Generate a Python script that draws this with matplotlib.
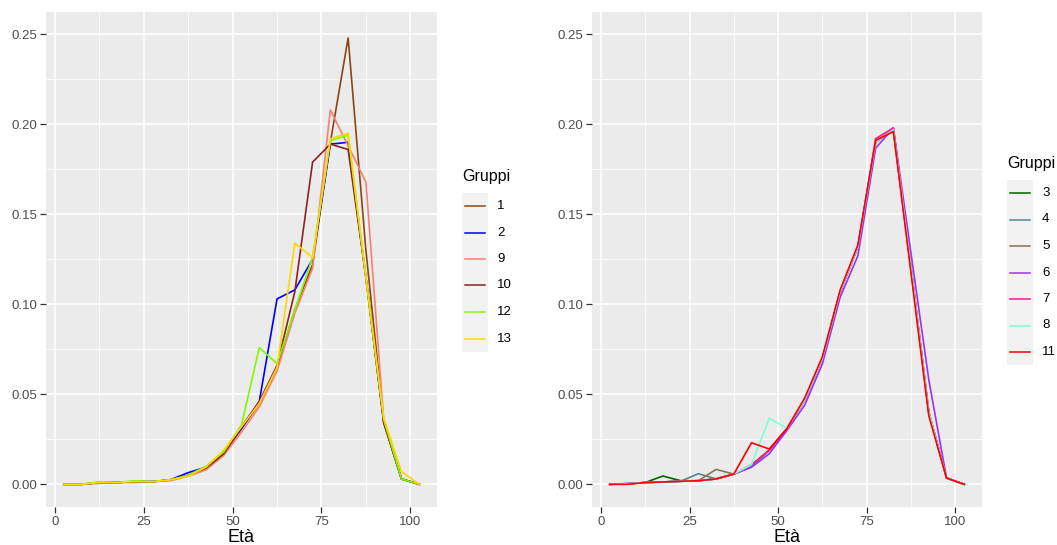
import matplotlib
matplotlib.use("Agg")
import matplotlib.pyplot as plt
from matplotlib.lines import Line2D
from matplotlib.patches import Rectangle

plt.rcParams['font.family'] = ['Liberation Sans', 'DejaVu Sans']

# classi di età (punto centrale)
eta = [2.5, 7.5, 12.5, 17.5, 22.5, 27.5, 32.5, 37.5, 42.5, 47.5, 52.5,
       57.5, 62.5, 67.5, 72.5, 77.5, 82.5, 87.5, 92.5, 97.5, 102.5]

# pannello sinistro
g1 = [0, 0, 0.001, 0.001, 0.0015, 0.0015, 0.0025, 0.005, 0.009, 0.017, 0.031,
      0.045, 0.065, 0.097, 0.122, 0.19, 0.248, 0.13, 0.035, 0.003, 0]
g2 = [0, 0, 0.001, 0.001, 0.0015, 0.0015, 0.0025, 0.0065, 0.0095, 0.018, 0.031,
      0.046, 0.103, 0.108, 0.125, 0.189, 0.190, 0.115, 0.035, 0.003, 0]
g9 = [0, 0, 0.0005, 0.001, 0.001, 0.0015, 0.002, 0.0045, 0.008, 0.016, 0.029,
      0.043, 0.063, 0.095, 0.12, 0.208, 0.188, 0.168, 0.036, 0.003, 0]
g10 = [0, 0, 0.001, 0.001, 0.0015, 0.0015, 0.0025, 0.005, 0.009, 0.017, 0.032,
       0.046, 0.066, 0.107, 0.179, 0.189, 0.186, 0.115, 0.034, 0.003, 0]
g12 = [0, 0, 0.0015, 0.001, 0.002, 0.0015, 0.0025, 0.005, 0.01, 0.018, 0.033,
       0.076, 0.067, 0.097, 0.126, 0.191, 0.194, 0.115, 0.036, 0.003, 0]
g13 = [0, 0, 0.001, 0.001, 0.0015, 0.0015, 0.0025, 0.0045, 0.0095, 0.019, 0.032,
       0.045, 0.065, 0.134, 0.126, 0.192, 0.195, 0.115, 0.037, 0.007, 0]

# pannello destro
g3 = [0, 0.0003, 0.001, 0.0046, 0.002, 0.002, 0.003, 0.0057, 0.010, 0.019, 0.031,
      0.047, 0.070, 0.107, 0.132, 0.190, 0.197, 0.12, 0.040, 0.0035, 0]
g4 = [0, 0.0003, 0.001, 0.0013, 0.0017, 0.0059, 0.003, 0.0057, 0.010, 0.019, 0.031,
      0.047, 0.070, 0.107, 0.132, 0.190, 0.197, 0.12, 0.040, 0.0035, 0]
g5 = [0, 0.0003, 0.001, 0.0013, 0.0017, 0.002, 0.0083, 0.0057, 0.010, 0.019, 0.031,
      0.047, 0.070, 0.107, 0.132, 0.190, 0.197, 0.12, 0.040, 0.0035, 0]
g6 = [0, 0.0003, 0.001, 0.0013, 0.0017, 0.002, 0.003, 0.0057, 0.0095, 0.017, 0.030,
      0.044, 0.067, 0.104, 0.127, 0.1867, 0.198, 0.128, 0.058, 0.0035, 0]
g7 = [0, 0.0005, 0.001, 0.0013, 0.0017, 0.002, 0.003, 0.0057, 0.011, 0.019, 0.031,
      0.047, 0.070, 0.107, 0.132, 0.192, 0.198, 0.12, 0.040, 0.0035, 0]
g8 = [0, 0.0003, 0.001, 0.0013, 0.0017, 0.002, 0.003, 0.0057, 0.011, 0.0367, 0.031,
      0.047, 0.070, 0.107, 0.132, 0.190, 0.197, 0.12, 0.040, 0.0035, 0]
g11 = [0, 0, 0.001, 0.0013, 0.0017, 0.002, 0.003, 0.0057, 0.0231, 0.0196, 0.031,
       0.048, 0.071, 0.108, 0.133, 0.191, 0.196, 0.117, 0.038, 0.0035, 0]

gruppi_sx = ['1', '2', '9', '10', '12', '13']
serie_sx = [g1, g2, g9, g10, g12, g13]
colori_sx = ['#8B4513', '#0000FF', '#FA8072', '#8B2323', '#7CFC00', '#FFD700']

gruppi_dx = ['3', '4', '5', '6', '7', '8', '11']
serie_dx = [g3, g4, g5, g6, g7, g8, g11]
colori_dx = ['#006400', '#53868B', '#8B7355', '#9B30FF', '#FF1493', '#7FFFD4', '#FF0000']

W, H = 1057, 545
fig = plt.figure(figsize=(W / 100, H / 100), dpi=100)


def px_axes(x0, y0, x1, y1):
    return fig.add_axes([x0 / W, 1 - y1 / H, (x1 - x0) / W, (y1 - y0) / H])


def style(ax):
    ax.set_facecolor('#EBEBEB')
    for s in ax.spines.values():
        s.set_visible(False)
    ax.set_xlim(-2.5, 107.5)
    ax.set_ylim(-0.0126, 0.2624)
    ax.set_xticks([0, 25, 50, 75, 100])
    ax.set_xticks([12.5, 37.5, 62.5, 87.5], minor=True)
    ax.set_yticks([0, 0.05, 0.10, 0.15, 0.20, 0.25])
    ax.set_yticklabels(['0.00', '0.05', '0.10', '0.15', '0.20', '0.25'])
    ax.set_yticks([0.025, 0.075, 0.125, 0.175, 0.225], minor=True)
    ax.grid(which='major', color='white', lw=1.1)
    ax.grid(which='minor', color='white', lw=0.55)
    ax.set_axisbelow(True)
    ax.tick_params(which='major', length=4, width=0.9, color='#333333',
                   labelcolor='#4D4D4D', labelsize=9.5, pad=2.5)
    ax.tick_params(which='minor', length=0)
    ax.set_xlabel('Età', fontsize=13, labelpad=1)


def legenda(x, y_title, y_first, step, labels, colors):
    fig.text(x / W, 1 - y_title / H, 'Gruppi', fontsize=11.5, va='center', ha='left')
    top = y_first - step / 2
    fig.add_artist(Rectangle((x / W, 1 - (top + step * len(labels)) / H),
                             26 / W, step * len(labels) / H,
                             transform=fig.transFigure, color='#F2F2F2', lw=0))
    for i, (lab, c) in enumerate(zip(labels, colors)):
        yy = 1 - (y_first + i * step) / H
        fig.add_artist(Line2D([(x + 3) / W, (x + 23) / W], [yy, yy],
                              transform=fig.transFigure, color=c, lw=1.1))
        fig.text((x + 35) / W, yy, lab, fontsize=9.5, va='center', ha='left')


ax1 = px_axes(46, 12, 437, 507)
style(ax1)
for s, c in zip(serie_sx, colori_sx):
    ax1.plot(eta, s, color=c, lw=1.2)
legenda(462, 177, 206, 26.5, gruppi_sx, colori_sx)

ax2 = px_axes(592, 12, 982, 507)
style(ax2)
for s, c in zip(serie_dx, colori_dx):
    ax2.plot(eta, s, color=c, lw=1.2)
legenda(1007, 163, 193, 26.5, gruppi_dx, colori_dx)

fig.savefig('out.png', dpi=100)
